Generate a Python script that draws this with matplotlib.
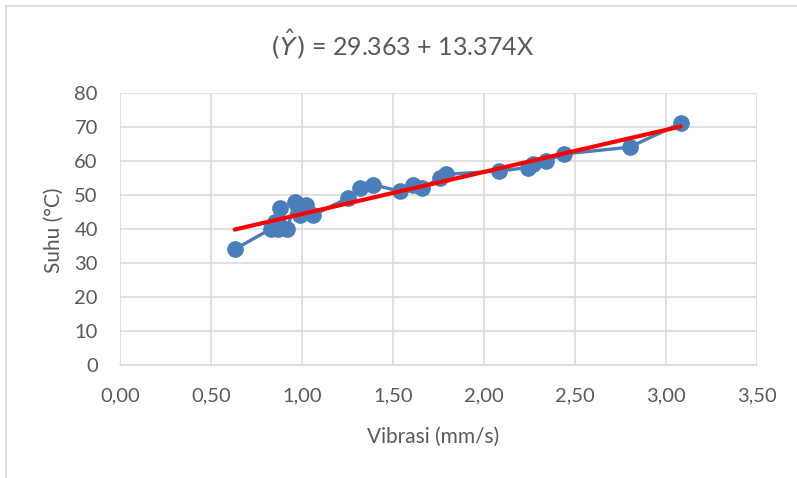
import numpy as np
import matplotlib
matplotlib.use("Agg")
from matplotlib import pyplot as plt
from matplotlib.lines import Line2D
from matplotlib.ticker import FuncFormatter, MultipleLocator

# Data
vibrasi = [0.63, 0.83, 0.85, 0.87, 0.88, 0.92, 0.96, 0.99, 1.02, 1.06,
           1.25, 1.32, 1.39, 1.54, 1.61, 1.66, 1.76, 1.79, 2.08, 2.24,
           2.27, 2.34, 2.44, 2.80, 3.08]
suhu = [34, 40, 42, 40, 46, 40, 48, 44, 47, 44,
        49, 52, 53, 51, 53, 52, 55, 56, 57, 58,
        59, 60, 62, 64, 71]

title_text = r"$(\hat{Y})$ = 29.363 + 13.374X"
x_label = "Vibrasi (mm/s)"
y_label = "Suhu (°C)"

plt.rcParams["font.family"] = ["Lato", "DejaVu Sans"]
plt.rcParams["mathtext.fontset"] = "dejavusans"
text_color = "#595959"
grid_color = "#d9d9d9"

W, H = 797, 478
fig = plt.figure(figsize=(W / 100, H / 100), dpi=100)
ax = fig.add_axes([120 / W, 1 - 365 / H, (757 - 120) / W, (365 - 92.7) / H])

ax.plot(vibrasi, suhu, color="#4a7ebb", lw=2.4, marker="o", ms=11,
        zorder=3, solid_capstyle="round")

# linear trendline through the data
coef = np.polyfit(vibrasi, suhu, 1)
xs = np.array([min(vibrasi), max(vibrasi)])
ax.plot(xs, np.polyval(coef, xs), color="#ff0000", lw=3, zorder=4,
        solid_capstyle="round")

ax.set_xlim(0, 3.5)
ax.set_ylim(0, 80)
ax.xaxis.set_major_locator(MultipleLocator(0.5))
ax.yaxis.set_major_locator(MultipleLocator(10))
ax.xaxis.set_major_formatter(FuncFormatter(lambda v, _: f"{v:.2f}".replace(".", ",")))
ax.grid(True, color=grid_color, lw=1.1)
ax.set_axisbelow(True)
for side in ["top", "right", "left"]:
    ax.spines[side].set_visible(False)
ax.spines["bottom"].set_color(grid_color)
ax.spines["bottom"].set_linewidth(1.1)
ax.tick_params(length=0, labelsize=14.5, labelcolor=text_color)
ax.tick_params(axis="x", pad=16)
ax.tick_params(axis="y", pad=16)

ax.set_xlabel(x_label, fontsize=15, color=text_color)
ax.set_ylabel(y_label, fontsize=15, color=text_color)
ax.xaxis.set_label_coords((433 - 120) / (757 - 120), -(437 - 365) / (365 - 92.7))
ax.yaxis.set_label_coords(-(120 - 54) / (757 - 120), (365 - 230) / (365 - 92.7))
ax.xaxis.label.set_va("center")
ax.yaxis.label.set_va("center")
fig.text(402 / W, 1 - 44 / H, title_text, ha="center", va="center",
         fontsize=18, color=text_color)

# chart border (left and top edges visible in the crop)
fig.add_artist(Line2D([6 / W, 6 / W], [0, 1 - 6 / H], transform=fig.transFigure,
                      color=grid_color, lw=1.2))
fig.add_artist(Line2D([6 / W, 1], [1 - 6 / H, 1 - 6 / H], transform=fig.transFigure,
                      color=grid_color, lw=1.2))

fig.savefig("out.png", dpi=100)
